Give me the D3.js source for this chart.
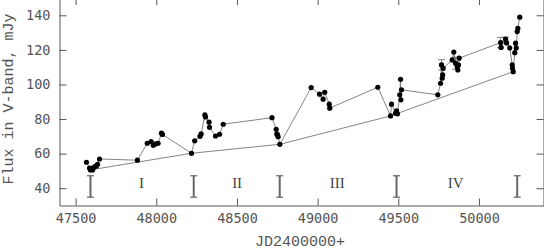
<!DOCTYPE html>
<html>
<head>
<meta charset="utf-8">
<script src="https://cdn.jsdelivr.net/npm/d3@7"></script>
<style>
  body { margin: 0; background: #fff; }
  svg { display: block; }
</style>
</head>
<body>
<script>
// light curve, V-band flux vs JD
var jd = [47567, 47586, 47592, 47598, 47605, 47617, 47629, 47636, 47648, 47883,
  47944, 47968, 47981, 47995, 48011, 48032, 48038, 48218, 48238, 48271,
  48278, 48301, 48305, 48327, 48330, 48367, 48392, 48415, 48717, 48743,
  48747, 48751, 48755, 48766, 48960, 49012, 49034, 49044, 49072, 49075,
  49373, 49452, 49458, 49483, 49489, 49495, 49509, 49514, 49516, 49520,
  49745, 49762, 49768, 49772, 49775, 49778, 49834, 49844, 49855, 49865,
  49869, 49873, 49877, 50134, 50137, 50165, 50171, 50191, 50206, 50208,
  50212, 50222, 50227, 50231, 50237, 50241, 50253];
var flux = [55.0, 51.7, 50.6, 51.5, 50.6, 52.3, 52.9, 53.8, 56.9, 56.2,
  66.0, 67.0, 64.8, 65.6, 66.0, 71.8, 71.1, 60.2, 67.4, 70.0,
  71.4, 82.4, 81.2, 78.2, 75.2, 70.2, 71.2, 77.0, 80.8, 74.1,
  71.4, 70.8, 69.8, 65.4, 98.2, 94.4, 91.5, 95.5, 88.6, 86.3,
  98.4, 81.8, 88.6, 83.4, 84.7, 83.0, 94.0, 103.0, 91.1, 96.9,
  94.0, 100.7, 111.3, 103.6, 105.5, 109.4, 114.2, 118.7, 112.3, 110.3,
  108.4, 111.3, 115.2, 124.2, 121.4, 126.2, 124.0, 121.1, 111.3, 109.3,
  107.4, 118.4, 123.9, 121.1, 130.6, 132.5, 138.9];

// points with drawn error bars: [jd, flux, err]
var errPoints = [[49768, 111.3, 3.0], [49855, 112.3, 3.5], [50134, 124.2, 3.0], [50165, 126.2, 1.2]];

// lower envelope through seasonal minima
var lowJd = [47592, 48218, 48766, 49452, 50212];
var lowFlux = [50.6, 60.2, 65.4, 81.8, 107.4];

// typical error bar per season
var barJd = [47592, 48232, 48765, 49489, 50237];
var barFlux = 41;
var barErr = 6.2;

var seasons = ["I", "II", "III", "IV"];
var seasonJd = [47908, 48501, 49121, 49855];
var seasonY = 40;

var xTicks = [47500, 48000, 48500, 49000, 49500, 50000];
var yTicks = [40, 60, 80, 100, 120, 140];

var svgWidth = 544;
var svgHeight = 251;
var grey = "#555";
var textGrey = "#555";

var svg = d3.select("body").append("svg")
  .attr("width", svgWidth)
  .attr("height", svgHeight);

var x = d3.scaleLinear().domain([47400, 50400]).range([59.5, 543.5]);
var y = d3.scaleLinear().domain([30, 150]).range([205.5, -2]);

function styleAxis(g) {
  g.selectAll("path").attr("stroke", grey);
  g.selectAll("line").attr("stroke", grey);
  g.selectAll("text").attr("fill", textGrey)
    .attr("font-family", "DejaVu Sans Mono")
    .attr("font-size", "13.5px");
}

// axes, ticks pointing in
svg.append("g")
  .attr("transform", "translate(0," + y(30) + ")")
  .call(d3.axisBottom(x).tickValues(xTicks).tickFormat(d3.format("d"))
    .tickSizeInner(-7).tickSizeOuter(0).tickPadding(8))
  .call(styleAxis);

svg.append("g")
  .attr("transform", "translate(0," + y(150) + ")")
  .call(d3.axisTop(x).tickValues(xTicks).tickFormat("")
    .tickSizeInner(-7).tickSizeOuter(0))
  .call(styleAxis);

svg.append("g")
  .attr("transform", "translate(" + x(47400) + ",0)")
  .call(d3.axisLeft(y).tickValues(yTicks)
    .tickSizeInner(-7).tickSizeOuter(0).tickPadding(9))
  .call(styleAxis);

svg.append("g")
  .attr("transform", "translate(" + x(50400) + ",0)")
  .call(d3.axisRight(y).tickValues(yTicks).tickFormat("")
    .tickSizeInner(-7).tickSizeOuter(0))
  .call(styleAxis);

// axis titles
svg.append("text")
  .attr("x", 300).attr("y", 246)
  .attr("text-anchor", "middle")
  .attr("font-family", "Liberation Mono")
  .attr("font-size", "15px")
  .attr("fill", textGrey)
  .text("JD2400000+");

svg.append("text")
  .attr("transform", "translate(13,99) rotate(-90)")
  .attr("text-anchor", "middle")
  .attr("font-family", "Liberation Mono")
  .attr("font-size", "15px")
  .attr("fill", textGrey)
  .text("Flux in V-band, mJy");

// connecting lines
var line = d3.line().x(d => x(d[0])).y(d => y(d[1]));
var pts = jd.map((d, i) => [d, flux[i]]);
var low = lowJd.map((d, i) => [d, lowFlux[i]]);

svg.append("path").datum(pts)
  .attr("d", line).attr("fill", "none")
  .attr("stroke", "#666").attr("stroke-width", 0.8);

svg.append("path").datum(low)
  .attr("d", line).attr("fill", "none")
  .attr("stroke", "#666").attr("stroke-width", 0.8);

// small error bars on some points
var eb = svg.append("g").attr("stroke", "#666").attr("stroke-width", 0.8);
errPoints.forEach(function(p) {
  eb.append("line").attr("x1", x(p[0])).attr("x2", x(p[0]))
    .attr("y1", y(p[1] - p[2])).attr("y2", y(p[1] + p[2]));
  [p[1] - p[2], p[1] + p[2]].forEach(function(v) {
    eb.append("line").attr("x1", x(p[0]) - 3.5).attr("x2", x(p[0]) + 3.5)
      .attr("y1", y(v)).attr("y2", y(v));
  });
});

// data points
svg.append("g").selectAll("circle").data(pts).enter()
  .append("circle")
  .attr("cx", d => x(d[0]))
  .attr("cy", d => y(d[1]))
  .attr("r", 2.6)
  .attr("fill", "#000");

// representative error bars per season
var sb = svg.append("g").attr("stroke", "#666");
barJd.forEach(function(d) {
  sb.append("line").attr("x1", x(d)).attr("x2", x(d))
    .attr("y1", y(barFlux - barErr)).attr("y2", y(barFlux + barErr))
    .attr("stroke-width", 2);
  [barFlux - barErr, barFlux + barErr].forEach(function(v) {
    sb.append("line").attr("x1", x(d) - 3.5).attr("x2", x(d) + 3.5)
      .attr("y1", y(v)).attr("y2", y(v)).attr("stroke-width", 1.2);
  });
});

// season labels
svg.append("g").selectAll("text").data(seasons).enter()
  .append("text")
  .attr("x", (d, i) => x(seasonJd[i]))
  .attr("y", y(seasonY))
  .attr("text-anchor", "middle")
  .attr("font-family", "Liberation Serif")
  .attr("font-size", "15px")
  .attr("fill", "#444")
  .text(d => d);
</script>
</body>
</html>
